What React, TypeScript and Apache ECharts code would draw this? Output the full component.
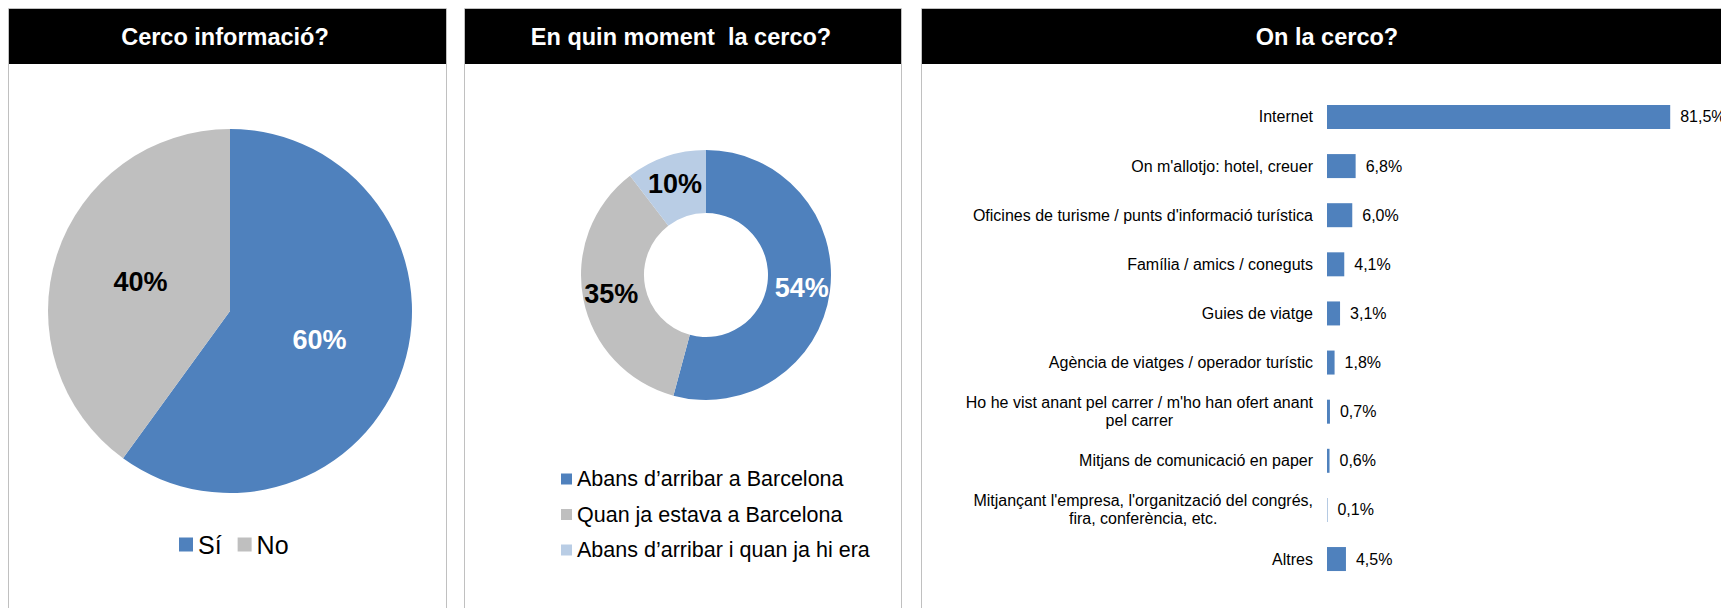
import React, { useEffect, useRef } from "react";
import * as echarts from "echarts";

const FONT = "'Liberation Sans', Arial, sans-serif";
const BLUE = "#4F81BD";
const GRAY = "#BFBFBF";
const LIGHT = "#B9CDE5";

const panelTitles = ["Cerco informació?", "En quin moment  la cerco?", "On la cerco?"];

const searchCategories = ["Sí", "No"];
const searchValues = [60, 40];

const momentCategories = [
  "Abans d’arribar a Barcelona",
  "Quan ja estava a Barcelona",
  "Abans d’arribar i quan ja hi era",
];
const momentValues = [54.2, 35.4, 10.4];

const sourceCategories = [
  "Internet",
  "On m'allotjo: hotel, creuer",
  "Oficines de turisme / punts d'informació turística",
  "Família / amics / coneguts",
  "Guies de viatge",
  "Agència de viatges / operador turístic",
  "Ho he vist anant pel carrer / m'ho han ofert anant\npel carrer",
  "Mitjans de comunicació en paper",
  "Mitjançant l'empresa, l'organització del congrés,\nfira, conferència, etc.",
  "Altres",
];
const sourceValues = [81.5, 6.8, 6.0, 4.1, 3.1, 1.8, 0.7, 0.6, 0.1, 4.5];

export default function App() {
  const ref = useRef<HTMLDivElement>(null);

  useEffect(() => {
    document.body.style.margin = "0";
    if (!ref.current) return;
    const chart = echarts.init(ref.current, undefined, { renderer: "svg" });

    const panels = [
      { x: 8.5, w: 438, cx: 225 },
      { x: 464.5, w: 437, cx: 681 },
      { x: 921.5, w: 812, cx: 1327 },
    ];
    const graphics: any[] = [];
    panels.forEach((p, i) => {
      graphics.push({
        type: "rect",
        z: -10,
        shape: { x: p.x, y: 8.5, width: p.w, height: 700 },
        style: { fill: "#fff", stroke: "#C0C0C0", lineWidth: 1 },
      });
      graphics.push({
        type: "rect",
        z: -9,
        shape: { x: p.x + 0.5, y: 9, width: p.w - 1, height: 55 },
        style: { fill: "#000" },
      });
      graphics.push({
        type: "text",
        z: -8,
        x: p.cx,
        y: 37,
        style: {
          text: panelTitles[i],
          fill: "#fff",
          font: `bold 23.5px ${FONT}`,
          textAlign: "center",
          textVerticalAlign: "middle",
        },
      });
    });

    const searchColors = [BLUE, GRAY];
    const searchLabelColors = ["#fff", "#000"];
    const momentColors = [BLUE, GRAY, LIGHT];
    const momentLabelColors = ["#fff", "#000", "#000"];

    const fmtPct = (v: number) => v.toFixed(1).replace(".", ",") + "%";

    const option: any = {
      animation: false,
      graphic: graphics,
      legend: [
        {
          data: searchCategories,
          left: 179,
          top: 532,
          padding: 0,
          itemWidth: 14,
          itemHeight: 14,
          itemGap: 16,
          icon: "rect",
          textStyle: { fontSize: 25, color: "#000", fontFamily: FONT },
        },
        {
          data: momentCategories,
          orient: "vertical",
          left: 561,
          top: 468,
          padding: 0,
          itemWidth: 11,
          itemHeight: 11,
          itemGap: 13.5,
          icon: "rect",
          textStyle: { fontSize: 21.5, color: "#000", fontFamily: FONT },
        },
      ],
      grid: { left: 1327, right: 15, top: 92.4, bottom: 24.4 },
      xAxis: { type: "value", min: 0, max: 90, show: false },
      yAxis: {
        type: "category",
        inverse: true,
        data: sourceCategories,
        axisLine: { show: false },
        axisTick: { show: false },
        axisLabel: {
          margin: 14,
          color: "#000",
          fontSize: 16,
          fontFamily: FONT,
          align: "right",
          lineHeight: 18,
          formatter: (v: string) =>
            v.indexOf("\n") >= 0
              ? v
                  .split("\n")
                  .map((l) => `{c|${l}}`)
                  .join("\n")
              : v,
          rich: {
            c: { align: "center", fontSize: 16, lineHeight: 18, color: "#000", fontFamily: FONT },
          },
        },
      },
      series: [
        {
          type: "pie",
          center: [230, 311],
          radius: [0, 182],
          startAngle: 90,
          clockwise: true,
          silent: true,
          label: {
            position: "inside",
            fontSize: 27,
            fontWeight: "bold",
            fontFamily: FONT,
            formatter: (p: any) => Math.round(p.value) + "%",
          },
          labelLine: { show: false },
          data: searchCategories.map((n, i) => ({
            name: n,
            value: searchValues[i],
            itemStyle: { color: searchColors[i] },
            label: { color: searchLabelColors[i] },
          })),
        },
        {
          type: "pie",
          center: [706, 275],
          radius: [62, 125],
          startAngle: 90,
          clockwise: true,
          silent: true,
          label: {
            position: "inside",
            fontSize: 27,
            fontWeight: "bold",
            fontFamily: FONT,
            formatter: (p: any) => Math.round(p.value) + "%",
          },
          labelLine: { show: false },
          data: momentCategories.map((n, i) => ({
            name: n,
            value: momentValues[i],
            itemStyle: { color: momentColors[i] },
            label: { color: momentLabelColors[i] },
          })),
        },
        {
          type: "bar",
          barWidth: 24,
          silent: true,
          itemStyle: { color: BLUE },
          label: {
            show: true,
            position: "right",
            distance: 10,
            color: "#000",
            fontSize: 16,
            fontFamily: FONT,
            formatter: (p: any) => fmtPct(p.value),
          },
          data: sourceValues,
        },
      ],
    };

    chart.setOption(option);
    return () => chart.dispose();
  }, []);

  return <div ref={ref} style={{ width: 1721, height: 608 }} />;
}
